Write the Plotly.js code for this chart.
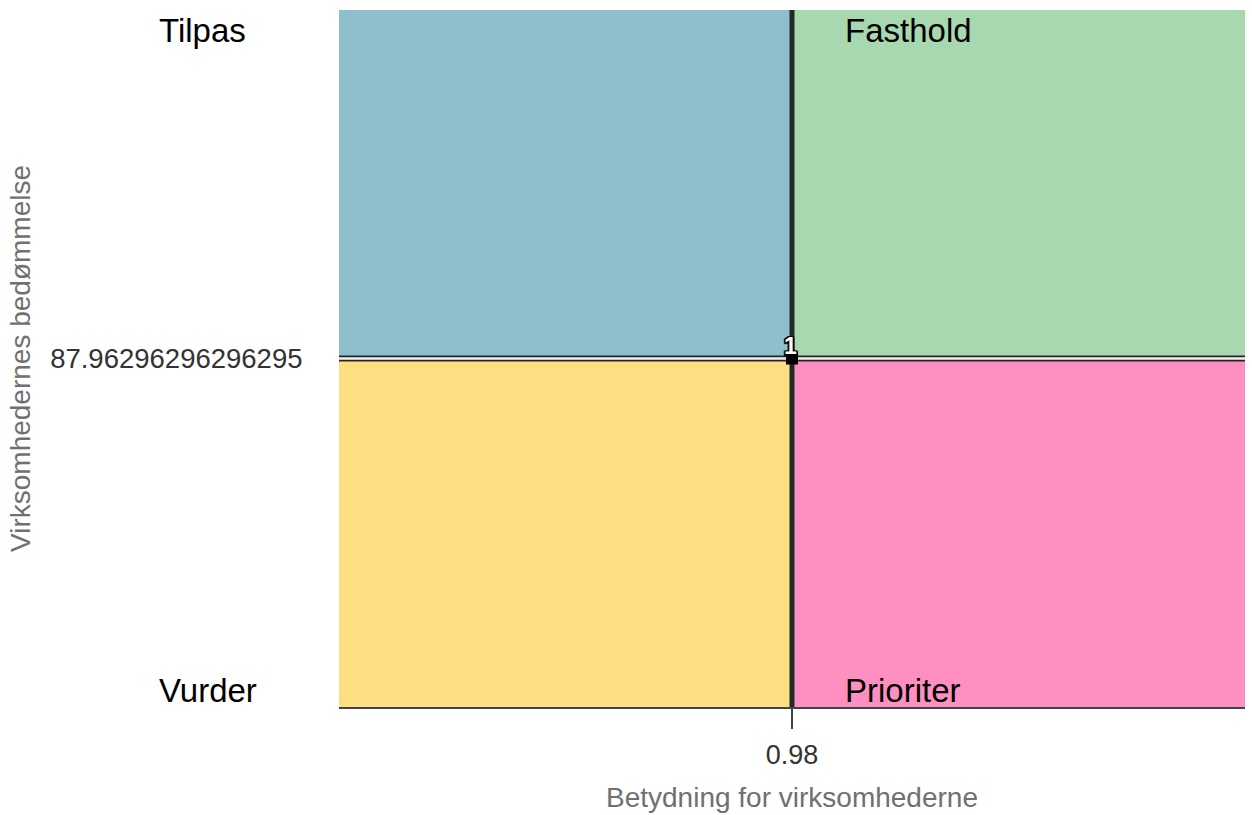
<!DOCTYPE html>
<html>
<head>
<meta charset="utf-8">
<script src="https://cdn.plot.ly/plotly-3.0.1.min.js"></script>
<style>html,body{margin:0;padding:0;background:#fff;}#chart{width:1252px;height:815px;}</style>
</head>
<body>
<div id="chart"></div>
<script>
// Data
const pointLabels = ["1"];
const importance = [0.98];                 // x: Betydning for virksomhederne
const rating = [87.96296296296295];        // y: Virksomhedernes bedømmelse
const xTickLabels = ["0.98"];
const yTickLabels = ["87.96296296296295"];
const quadrantNames = ["Tilpas", "Fasthold", "Vurder", "Prioriter"];
const quadrantColors = ["#8dbfcc", "#a8d8b0", "#fdde81", "#ff8fc0"];

const xMid = importance[0];
const yMid = rating[0];
const xSpan = 0.02, ySpan = 10;
const xr = [xMid - xSpan, xMid + xSpan];
const yr = [yMid - ySpan, yMid + ySpan];

const shapes = [
  {type:'rect', xref:'x', yref:'y', x0:xr[0], x1:xMid, y0:yMid, y1:yr[1], fillcolor:quadrantColors[0], line:{width:0}, layer:'below'},
  {type:'rect', xref:'x', yref:'y', x0:xMid, x1:xr[1], y0:yMid, y1:yr[1], fillcolor:quadrantColors[1], line:{width:0}, layer:'below'},
  {type:'rect', xref:'x', yref:'y', x0:xr[0], x1:xMid, y0:yr[0], y1:yMid, fillcolor:quadrantColors[2], line:{width:0}, layer:'below'},
  {type:'rect', xref:'x', yref:'y', x0:xMid, x1:xr[1], y0:yr[0], y1:yMid, fillcolor:quadrantColors[3], line:{width:0}, layer:'below'},
  {type:'line', xref:'x', yref:'y', x0:xr[0], x1:xr[1], y0:yMid, y1:yMid, line:{color:'#262626', width:6}, layer:'below'},
  {type:'line', xref:'x', yref:'y', x0:xr[0], x1:xr[1], y0:yMid, y1:yMid, line:{color:'#f0f0f0', width:2.5}, layer:'below'},
  {type:'line', xref:'x', yref:'y', x0:xMid, x1:xMid, y0:yr[0], y1:yr[1], line:{color:'#232828', width:5}, layer:'below'}
];

const labelFont = {family:'Liberation Sans, Arial, sans-serif', size:33, color:'#000'};
const annotations = [
  {xref:'paper', yref:'paper', x:-0.201, y:0.970, xanchor:'left', yanchor:'middle', text:quadrantNames[0], showarrow:false, font:labelFont},
  {xref:'paper', yref:'paper', x:0.556, y:0.970, xanchor:'left', yanchor:'middle', text:quadrantNames[1], showarrow:false, font:labelFont},
  {xref:'paper', yref:'paper', x:-0.201, y:0.024, xanchor:'left', yanchor:'middle', text:quadrantNames[2], showarrow:false, font:labelFont},
  {xref:'paper', yref:'paper', x:0.556, y:0.024, xanchor:'left', yanchor:'middle', text:quadrantNames[3], showarrow:false, font:labelFont},
  // point label
  {xref:'x', yref:'y', x:importance[0], y:rating[0], text:pointLabels[0], showarrow:false, yanchor:'middle', yshift:13, xshift:-2,
   font:{family:'Liberation Sans, Arial, sans-serif', size:23, color:'#ffffff', weight:'bold',
         shadow:'1.5px 1.5px 0 #000, -1.5px -1.5px 0 #000, 1.5px -1.5px 0 #000, -1.5px 1.5px 0 #000, 0 1.5px 0 #000, 0 -1.5px 0 #000, 1.5px 0 0 #000, -1.5px 0 0 #000'}}
];

const trace = {
  type:'scatter', mode:'markers',
  x: importance, y: rating,
  marker:{symbol:'square', size:12, color:'#000'},
  cliponaxis:false, hoverinfo:'skip', showlegend:false
};

const layout = {
  width:1252, height:815,
  margin:{l:339, r:7, t:10, b:108},
  paper_bgcolor:'#fff', plot_bgcolor:'#fff',
  font:{family:'Liberation Sans, Arial, sans-serif'},
  xaxis:{
    range:xr, showgrid:false, zeroline:false,
    showline:true, linecolor:'#444', linewidth:2,
    tickmode:'array', tickvals:importance, ticktext:xTickLabels,
    ticks:'outside', ticklen:20, tickwidth:1.5, tickcolor:'#444',
    ticklabelstandoff:3,
    tickfont:{size:27, color:'#333'},
    title:{text:'Betydning for virksomhederne', font:{size:28, color:'#707070'}, standoff:18}
  },
  yaxis:{
    range:yr, showgrid:false, zeroline:false, showline:false,
    tickmode:'array', tickvals:rating, ticktext:yTickLabels,
    ticks:'outside', ticklen:30, tickcolor:'rgba(0,0,0,0)',
    tickfont:{size:27.5, color:'#333'},
    title:{text:'Virksomhedernes bedømmelse', font:{size:28, color:'#707070'}, standoff:11}
  },
  shapes:shapes,
  annotations:annotations,
  showlegend:false
};

Plotly.newPlot('chart', [trace], layout, {displayModeBar:false, staticPlot:true});
</script>
</body>
</html>
